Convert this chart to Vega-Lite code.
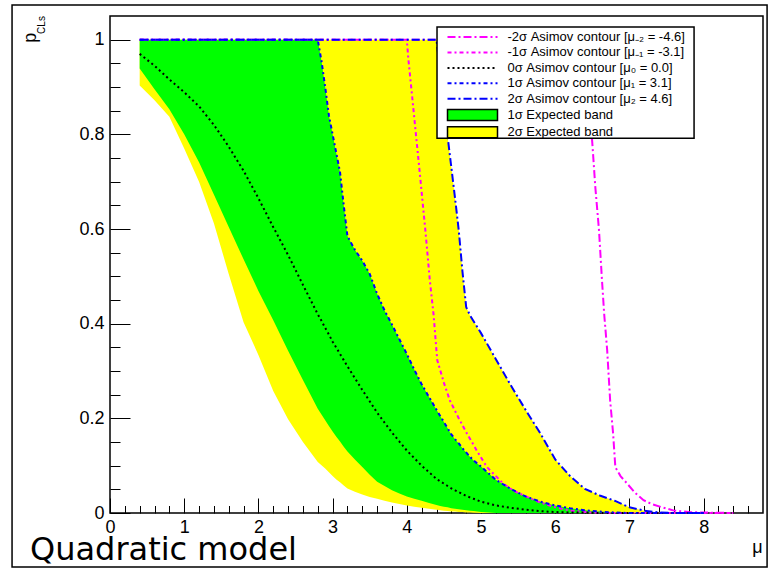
{
  "$schema": "https://vega.github.io/schema/vega-lite/v6.json",
  "width": 653,
  "height": 497,
  "autosize": {"type": "none"},
  "padding": {"left": 110, "top": 16, "right": 5, "bottom": 57},
  "background": "white",
  "datasets": {
    "band": [
      {"mu": 0.4, "lo2": 0.903, "lo1": 0.939, "med": 0.970, "hi1": 1, "hi2": 1},
      {"mu": 0.6, "lo2": 0.872, "lo1": 0.895, "med": 0.945, "hi1": 1, "hi2": 1},
      {"mu": 0.8, "lo2": 0.837, "lo1": 0.853, "med": 0.916, "hi1": 1, "hi2": 1},
      {"mu": 1.0, "lo2": 0.770, "lo1": 0.800, "med": 0.889, "hi1": 1, "hi2": 1},
      {"mu": 1.2, "lo2": 0.700, "lo1": 0.741, "med": 0.859, "hi1": 1, "hi2": 1},
      {"mu": 1.4, "lo2": 0.612, "lo1": 0.673, "med": 0.820, "hi1": 1, "hi2": 1},
      {"mu": 1.6, "lo2": 0.505, "lo1": 0.604, "med": 0.774, "hi1": 1, "hi2": 1},
      {"mu": 1.8, "lo2": 0.403, "lo1": 0.536, "med": 0.723, "hi1": 1, "hi2": 1},
      {"mu": 2.0, "lo2": 0.334, "lo1": 0.469, "med": 0.665, "hi1": 1, "hi2": 1},
      {"mu": 2.2, "lo2": 0.258, "lo1": 0.407, "med": 0.604, "hi1": 1, "hi2": 1},
      {"mu": 2.4, "lo2": 0.198, "lo1": 0.343, "med": 0.545, "hi1": 1, "hi2": 1},
      {"mu": 2.6, "lo2": 0.150, "lo1": 0.281, "med": 0.482, "hi1": 1, "hi2": 1},
      {"mu": 2.8, "lo2": 0.108, "lo1": 0.220, "med": 0.420, "hi1": 1, "hi2": 1},
      {"mu": 2.85, "lo2": 0.101, "lo1": 0.208, "med": 0.406, "hi1": 0.955, "hi2": 1},
      {"mu": 2.9, "lo2": 0.094, "lo1": 0.196, "med": 0.391, "hi1": 0.90, "hi2": 1},
      {"mu": 2.95, "lo2": 0.086, "lo1": 0.184, "med": 0.377, "hi1": 0.84, "hi2": 1},
      {"mu": 3.0, "lo2": 0.078, "lo1": 0.172, "med": 0.362, "hi1": 0.80, "hi2": 1},
      {"mu": 3.05, "lo2": 0.071, "lo1": 0.161, "med": 0.349, "hi1": 0.76, "hi2": 1},
      {"mu": 3.1, "lo2": 0.065, "lo1": 0.151, "med": 0.336, "hi1": 0.72, "hi2": 1},
      {"mu": 3.15, "lo2": 0.058, "lo1": 0.140, "med": 0.323, "hi1": 0.65, "hi2": 1},
      {"mu": 3.2, "lo2": 0.052, "lo1": 0.130, "med": 0.310, "hi1": 0.585, "hi2": 1},
      {"mu": 3.3, "lo2": 0.045, "lo1": 0.113, "med": 0.285, "hi1": 0.556, "hi2": 1},
      {"mu": 3.4, "lo2": 0.039, "lo1": 0.097, "med": 0.260, "hi1": 0.533, "hi2": 1},
      {"mu": 3.5, "lo2": 0.034, "lo1": 0.081, "med": 0.236, "hi1": 0.505, "hi2": 1},
      {"mu": 3.6, "lo2": 0.030, "lo1": 0.066, "med": 0.212, "hi1": 0.463, "hi2": 1},
      {"mu": 3.7, "lo2": 0.026, "lo1": 0.057, "med": 0.191, "hi1": 0.428, "hi2": 1},
      {"mu": 3.8, "lo2": 0.022, "lo1": 0.048, "med": 0.170, "hi1": 0.398, "hi2": 1},
      {"mu": 3.9, "lo2": 0.019, "lo1": 0.041, "med": 0.151, "hi1": 0.367, "hi2": 1},
      {"mu": 4.0, "lo2": 0.016, "lo1": 0.035, "med": 0.132, "hi1": 0.336, "hi2": 1},
      {"mu": 4.1, "lo2": 0.013, "lo1": 0.030, "med": 0.116, "hi1": 0.303, "hi2": 1},
      {"mu": 4.2, "lo2": 0.011, "lo1": 0.026, "med": 0.100, "hi1": 0.272, "hi2": 1},
      {"mu": 4.3, "lo2": 0.009, "lo1": 0.021, "med": 0.086, "hi1": 0.245, "hi2": 1},
      {"mu": 4.4, "lo2": 0.007, "lo1": 0.017, "med": 0.072, "hi1": 0.218, "hi2": 1},
      {"mu": 4.45, "lo2": 0.006, "lo1": 0.015, "med": 0.067, "hi1": 0.205, "hi2": 0.93},
      {"mu": 4.5, "lo2": 0.005, "lo1": 0.013, "med": 0.062, "hi1": 0.192, "hi2": 0.865},
      {"mu": 4.55, "lo2": 0.004, "lo1": 0.012, "med": 0.057, "hi1": 0.179, "hi2": 0.795},
      {"mu": 4.6, "lo2": 0.003, "lo1": 0.010, "med": 0.052, "hi1": 0.166, "hi2": 0.73},
      {"mu": 4.65, "lo2": 0.003, "lo1": 0.009, "med": 0.048, "hi1": 0.156, "hi2": 0.665},
      {"mu": 4.7, "lo2": 0.002, "lo1": 0.008, "med": 0.044, "hi1": 0.147, "hi2": 0.597},
      {"mu": 4.75, "lo2": 0.002, "lo1": 0.007, "med": 0.040, "hi1": 0.137, "hi2": 0.51},
      {"mu": 4.8, "lo2": 0.001, "lo1": 0.006, "med": 0.036, "hi1": 0.128, "hi2": 0.435},
      {"mu": 4.85, "lo2": 0.001, "lo1": 0.005, "med": 0.033, "hi1": 0.119, "hi2": 0.418},
      {"mu": 4.9, "lo2": 0.0005, "lo1": 0.004, "med": 0.030, "hi1": 0.111, "hi2": 0.405},
      {"mu": 5.0, "lo2": 0, "lo1": 0.002, "med": 0.024, "hi1": 0.098, "hi2": 0.380},
      {"mu": 5.2, "lo2": 0, "lo1": 0, "med": 0.016, "hi1": 0.070, "hi2": 0.325},
      {"mu": 5.4, "lo2": 0, "lo1": 0, "med": 0.011, "hi1": 0.051, "hi2": 0.270},
      {"mu": 5.6, "lo2": 0, "lo1": 0, "med": 0.007, "hi1": 0.035, "hi2": 0.218},
      {"mu": 5.8, "lo2": 0, "lo1": 0, "med": 0.004, "hi1": 0.024, "hi2": 0.168},
      {"mu": 6.0, "lo2": 0, "lo1": 0, "med": 0.002, "hi1": 0.016, "hi2": 0.113},
      {"mu": 6.2, "lo2": 0, "lo1": 0, "med": 0.001, "hi1": 0.010, "hi2": 0.078},
      {"mu": 6.4, "lo2": 0, "lo1": 0, "med": 0.001, "hi1": 0.006, "hi2": 0.051},
      {"mu": 6.6, "lo2": 0, "lo1": 0, "med": 0, "hi1": 0.003, "hi2": 0.037},
      {"mu": 6.8, "lo2": 0, "lo1": 0, "med": 0, "hi1": 0.001, "hi2": 0.026},
      {"mu": 7.0, "lo2": 0, "lo1": 0, "med": 0, "hi1": 0, "hi2": 0.012},
      {"mu": 7.2, "lo2": 0, "lo1": 0, "med": 0, "hi1": 0, "hi2": 0.005},
      {"mu": 7.4, "lo2": 0, "lo1": 0, "med": 0, "hi1": 0, "hi2": 0.001},
      {"mu": 7.6, "lo2": 0, "lo1": 0, "med": 0, "hi1": 0, "hi2": 0},
      {"mu": 8.0, "lo2": 0, "lo1": 0, "med": 0, "hi1": 0, "hi2": 0}
    ],
    "neg": [
      {"series": "m2", "mu": 0.4, "p": 1},
      {"series": "m2", "mu": 6.40, "p": 1},
      {"series": "m2", "mu": 6.46, "p": 0.86},
      {"series": "m2", "mu": 6.50, "p": 0.781},
      {"series": "m2", "mu": 6.54, "p": 0.689},
      {"series": "m2", "mu": 6.59, "p": 0.597},
      {"series": "m2", "mu": 6.63, "p": 0.492},
      {"series": "m2", "mu": 6.66, "p": 0.42},
      {"series": "m2", "mu": 6.70, "p": 0.344},
      {"series": "m2", "mu": 6.74, "p": 0.238},
      {"series": "m2", "mu": 6.78, "p": 0.168},
      {"series": "m2", "mu": 6.81, "p": 0.097},
      {"series": "m2", "mu": 6.88, "p": 0.078},
      {"series": "m2", "mu": 6.97, "p": 0.062},
      {"series": "m2", "mu": 7.08, "p": 0.042},
      {"series": "m2", "mu": 7.19, "p": 0.027},
      {"series": "m2", "mu": 7.30, "p": 0.019},
      {"series": "m2", "mu": 7.42, "p": 0.013},
      {"series": "m2", "mu": 7.6, "p": 0.005},
      {"series": "m2", "mu": 7.8, "p": 0.002},
      {"series": "m2", "mu": 8.0, "p": 0.001},
      {"series": "m2", "mu": 8.4, "p": 0},
      {"series": "m1", "mu": 0.4, "p": 1},
      {"series": "m1", "mu": 4.0, "p": 1},
      {"series": "m1", "mu": 4.02, "p": 0.96},
      {"series": "m1", "mu": 4.07, "p": 0.883},
      {"series": "m1", "mu": 4.11, "p": 0.82},
      {"series": "m1", "mu": 4.18, "p": 0.71},
      {"series": "m1", "mu": 4.25, "p": 0.597},
      {"series": "m1", "mu": 4.31, "p": 0.492},
      {"series": "m1", "mu": 4.36, "p": 0.42},
      {"series": "m1", "mu": 4.41, "p": 0.323},
      {"series": "m1", "mu": 4.50, "p": 0.275},
      {"series": "m1", "mu": 4.58, "p": 0.238},
      {"series": "m1", "mu": 4.70, "p": 0.200},
      {"series": "m1", "mu": 4.81, "p": 0.168},
      {"series": "m1", "mu": 4.95, "p": 0.130},
      {"series": "m1", "mu": 5.08, "p": 0.097},
      {"series": "m1", "mu": 5.30, "p": 0.062},
      {"series": "m1", "mu": 5.45, "p": 0.046},
      {"series": "m1", "mu": 5.62, "p": 0.034},
      {"series": "m1", "mu": 5.80, "p": 0.022},
      {"series": "m1", "mu": 5.98, "p": 0.013},
      {"series": "m1", "mu": 6.2, "p": 0.005},
      {"series": "m1", "mu": 6.5, "p": 0.001},
      {"series": "m1", "mu": 6.8, "p": 0},
      {"series": "m1", "mu": 8.4, "p": 0}
    ]
  },
  "resolve": {"axis": {"x": "independent", "y": "independent"}},
  "layer": [
    {
      "data": {"name": "band"},
      "mark": {"type": "area", "opacity": 1},
      "encoding": {
        "x": {"field": "mu", "type": "quantitative", "scale": {"domain": [0, 8.8], "nice": false, "zero": false},
              "axis": {"orient": "bottom", "values": [0, 1, 2, 3, 4, 5, 6, 7, 8], "format": "d", "tickSize": -15, "labelPadding": 20,
                       "title": "μ", "titleFontSize": 18, "titleFontWeight": "normal", "titleAnchor": "end", "titleAlign": "right", "titleX": 652, "titleY": 39, "titleBaseline": "alphabetic"}},
        "y": {"field": "lo2", "type": "quantitative", "scale": {"domain": [0, 1.05], "nice": false, "zero": false},
              "axis": {"orient": "left", "values": [0, 0.2, 0.4, 0.6, 0.8, 1], "format": ".1~f", "tickSize": -20, "labelPadding": 26, "title": null}},
        "y2": {"field": "hi2"},
        "fill": {
          "datum": "2σ Expected band",
          "type": "nominal",
          "scale": {"domain": ["1σ Expected band", "2σ Expected band"], "range": ["#00ff00", "#ffff00"]},
          "legend": {
            "orient": "none", "legendX": 327, "legendY": 92.5, "title": null, "direction": "vertical",
            "padding": 0, "rowPadding": 0.2,
            "symbolType": "M-5,-1.1H5V1.1H-5Z", "symbolSize": 100, "symbolStrokeColor": "black", "symbolStrokeWidth": 1.5, "symbolOpacity": 1,
            "symbolOffset": 29, "labelOffset": 28.5,
            "labelFont": "Liberation Sans", "labelFontSize": 13, "labelColor": "black", "labelLimit": 400
          }
        }
      }
    },
    {
      "data": {"name": "band"},
      "mark": {"type": "area", "opacity": 1},
      "encoding": {
        "x": {"field": "mu", "type": "quantitative", "scale": {"domain": [0, 8.8], "nice": false, "zero": false}, "axis": null},
        "y": {"field": "lo1", "type": "quantitative", "scale": {"domain": [0, 1.05], "nice": false, "zero": false}, "axis": null},
        "y2": {"field": "hi1"},
        "fill": {"datum": "1σ Expected band", "type": "nominal"}
      }
    },
    {
      "data": {"name": "neg"},
      "transform": [{"filter": "datum.series == 'm2'"}],
      "mark": {"type": "line", "strokeWidth": 2, "strokeCap": "butt"},
      "encoding": {
        "x": {"field": "mu", "type": "quantitative", "scale": {"domain": [0, 8.8], "nice": false, "zero": false}, "axis": null},
        "y": {"field": "p", "type": "quantitative", "scale": {"domain": [0, 1.05], "nice": false, "zero": false}, "axis": null},
        "stroke": {
          "datum": "-2σ Asimov contour [μ₋₂ = -4.6]", "type": "nominal",
          "scale": {
            "domain": ["-2σ Asimov contour [μ₋₂ = -4.6]", "-1σ Asimov contour [μ₋₁ = -3.1]", "0σ Asimov contour [μ₀ = 0.0]", "1σ Asimov contour [μ₁ = 3.1]", "2σ Asimov contour [μ₂ = 4.6]"],
            "range": ["#ff00ff", "#ff00ff", "#000000", "#0000ff", "#0000ff"]
          },
          "legend": {
            "orient": "none", "legendX": 327, "legendY": 14.5, "title": null, "direction": "vertical",
            "padding": 0, "rowPadding": 1.45,
            "symbolType": "M-5,0H5", "symbolSize": 100, "symbolStrokeWidth": 2, "symbolOpacity": 1,
            "symbolOffset": 29, "labelOffset": 28.5,
            "labelFont": "Liberation Sans", "labelFontSize": 13, "labelColor": "black", "labelLimit": 400
          }
        },
        "strokeDash": {
          "datum": "-2σ Asimov contour [μ₋₂ = -4.6]", "type": "nominal",
          "scale": {
            "domain": ["-2σ Asimov contour [μ₋₂ = -4.6]", "-1σ Asimov contour [μ₋₁ = -3.1]", "0σ Asimov contour [μ₀ = 0.0]", "1σ Asimov contour [μ₁ = 3.1]", "2σ Asimov contour [μ₂ = 4.6]"],
            "range": [[8, 3, 2, 3], [4, 3, 2, 3], [2, 3], [4, 3, 2, 3], [8, 3, 2, 3]]
          },
          "legend": {
            "orient": "none", "legendX": 327, "legendY": 14.5, "title": null, "direction": "vertical",
            "padding": 0, "rowPadding": 1.45,
            "symbolType": "M-5,0H5", "symbolSize": 100, "symbolStrokeWidth": 2, "symbolOpacity": 1,
            "symbolOffset": 29, "labelOffset": 28.5,
            "labelFont": "Liberation Sans", "labelFontSize": 13, "labelColor": "black", "labelLimit": 400
          }
        }
      }
    },
    {
      "data": {"name": "neg"},
      "transform": [{"filter": "datum.series == 'm1'"}],
      "mark": {"type": "line", "strokeWidth": 2, "strokeCap": "butt"},
      "encoding": {
        "x": {"field": "mu", "type": "quantitative", "scale": {"domain": [0, 8.8], "nice": false, "zero": false}, "axis": null},
        "y": {"field": "p", "type": "quantitative", "scale": {"domain": [0, 1.05], "nice": false, "zero": false}, "axis": null},
        "stroke": {"datum": "-1σ Asimov contour [μ₋₁ = -3.1]", "type": "nominal"},
        "strokeDash": {"datum": "-1σ Asimov contour [μ₋₁ = -3.1]", "type": "nominal"}
      }
    },
    {
      "data": {"name": "band"},
      "mark": {"type": "line", "strokeWidth": 2, "strokeCap": "butt"},
      "encoding": {
        "x": {"field": "mu", "type": "quantitative", "scale": {"domain": [0, 8.8], "nice": false, "zero": false}, "axis": null},
        "y": {"field": "med", "type": "quantitative", "scale": {"domain": [0, 1.05], "nice": false, "zero": false}, "axis": null},
        "stroke": {"datum": "0σ Asimov contour [μ₀ = 0.0]", "type": "nominal"},
        "strokeDash": {"datum": "0σ Asimov contour [μ₀ = 0.0]", "type": "nominal"}
      }
    },
    {
      "data": {"name": "band"},
      "mark": {"type": "line", "strokeWidth": 2, "strokeCap": "butt"},
      "encoding": {
        "x": {"field": "mu", "type": "quantitative", "scale": {"domain": [0, 8.8], "nice": false, "zero": false},
              "axis": {"orient": "bottom", "values": [0.2, 0.4, 0.6, 0.8, 1.2, 1.4, 1.6, 1.8, 2.2, 2.4, 2.6, 2.8, 3.2, 3.4, 3.6, 3.8, 4.2, 4.4, 4.6, 4.8, 5.2, 5.4, 5.6, 5.8, 6.2, 6.4, 6.6, 6.8, 7.2, 7.4, 7.6, 7.8, 8.2, 8.4, 8.6], "labels": false, "tickSize": -7.5, "title": null}},
        "y": {"field": "hi1", "type": "quantitative", "scale": {"domain": [0, 1.05], "nice": false, "zero": false},
              "axis": {"orient": "left", "values": [0.05, 0.1, 0.15, 0.25, 0.3, 0.35, 0.45, 0.5, 0.55, 0.65, 0.7, 0.75, 0.85, 0.9, 0.95], "labels": false, "tickSize": -10, "title": null}},
        "stroke": {"datum": "1σ Asimov contour [μ₁ = 3.1]", "type": "nominal"},
        "strokeDash": {"datum": "1σ Asimov contour [μ₁ = 3.1]", "type": "nominal"}
      }
    },
    {
      "data": {"name": "band"},
      "mark": {"type": "line", "strokeWidth": 2, "strokeCap": "butt"},
      "encoding": {
        "x": {"field": "mu", "type": "quantitative", "scale": {"domain": [0, 8.8], "nice": false, "zero": false}, "axis": null},
        "y": {"field": "hi2", "type": "quantitative", "scale": {"domain": [0, 1.05], "nice": false, "zero": false}, "axis": null},
        "stroke": {"datum": "2σ Asimov contour [μ₂ = 4.6]", "type": "nominal"},
        "strokeDash": {"datum": "2σ Asimov contour [μ₂ = 4.6]", "type": "nominal"}
      }
    },
    {
      "data": {"values": [{}]},
      "mark": {"type": "rect", "fill": "white", "stroke": "black", "strokeWidth": 1.5},
      "encoding": {
        "x": {"datum": 4.407, "type": "quantitative", "scale": {"domain": [0, 8.8], "nice": false, "zero": false}, "axis": null},
        "x2": {"datum": 7.871},
        "y": {"datum": 1.0268, "type": "quantitative", "scale": {"domain": [0, 1.05], "nice": false, "zero": false}, "axis": null},
        "y2": {"datum": 0.7917}
      }
    },
    {
      "data": {"values": [{}]},
      "mark": {"type": "text", "text": "p", "angle": 270, "fontSize": 18, "font": "Liberation Sans", "align": "center", "baseline": "alphabetic", "color": "black"},
      "encoding": {
        "x": {"datum": -0.997, "type": "quantitative", "scale": {"domain": [0, 8.8], "nice": false, "zero": false}, "axis": null},
        "y": {"datum": 1.004, "type": "quantitative", "scale": {"domain": [0, 1.05], "nice": false, "zero": false}, "axis": null}
      }
    },
    {
      "data": {"values": [{}]},
      "mark": {"type": "text", "text": "CLs", "angle": 270, "fontSize": 10, "font": "Liberation Sans", "align": "center", "baseline": "middle", "color": "black"},
      "encoding": {
        "x": {"datum": -0.923, "type": "quantitative", "scale": {"domain": [0, 8.8], "nice": false, "zero": false}, "axis": null},
        "y": {"datum": 1.031, "type": "quantitative", "scale": {"domain": [0, 1.05], "nice": false, "zero": false}, "axis": null}
      }
    },
    {
      "data": {"values": [{}]},
      "mark": {"type": "text", "text": "Quadratic model", "fontSize": 32, "font": "DejaVu Sans", "align": "left", "baseline": "alphabetic", "color": "black"},
      "encoding": {
        "x": {"datum": -1.078, "type": "quantitative", "scale": {"domain": [0, 8.8], "nice": false, "zero": false}, "axis": null},
        "y": {"datum": -0.1, "type": "quantitative", "scale": {"domain": [0, 1.05], "nice": false, "zero": false}, "axis": null}
      }
    },
    {
      "data": {"values": [{}]},
      "mark": {"type": "rect", "filled": false, "stroke": "black", "strokeWidth": 1.5},
      "encoding": {
        "x": {"datum": -1.32, "type": "quantitative", "scale": {"domain": [0, 8.8], "nice": false, "zero": false}, "axis": null},
        "x2": {"datum": 8.855},
        "y": {"datum": 1.073, "type": "quantitative", "scale": {"domain": [0, 1.05], "nice": false, "zero": false}, "axis": null},
        "y2": {"datum": -0.114}
      }
    }
  ],
  "config": {
    "view": {"stroke": "black", "strokeWidth": 1.5},
    "font": "Liberation Sans",
    "axis": {
      "domain": false, "grid": false, "tickColor": "black", "tickWidth": 1,
      "labelFont": "Liberation Sans", "labelFontSize": 18, "labelColor": "black",
      "labelFlush": false, "labelOverlap": false,
      "titleFont": "Liberation Sans", "titleColor": "black"
    }
  }
}
